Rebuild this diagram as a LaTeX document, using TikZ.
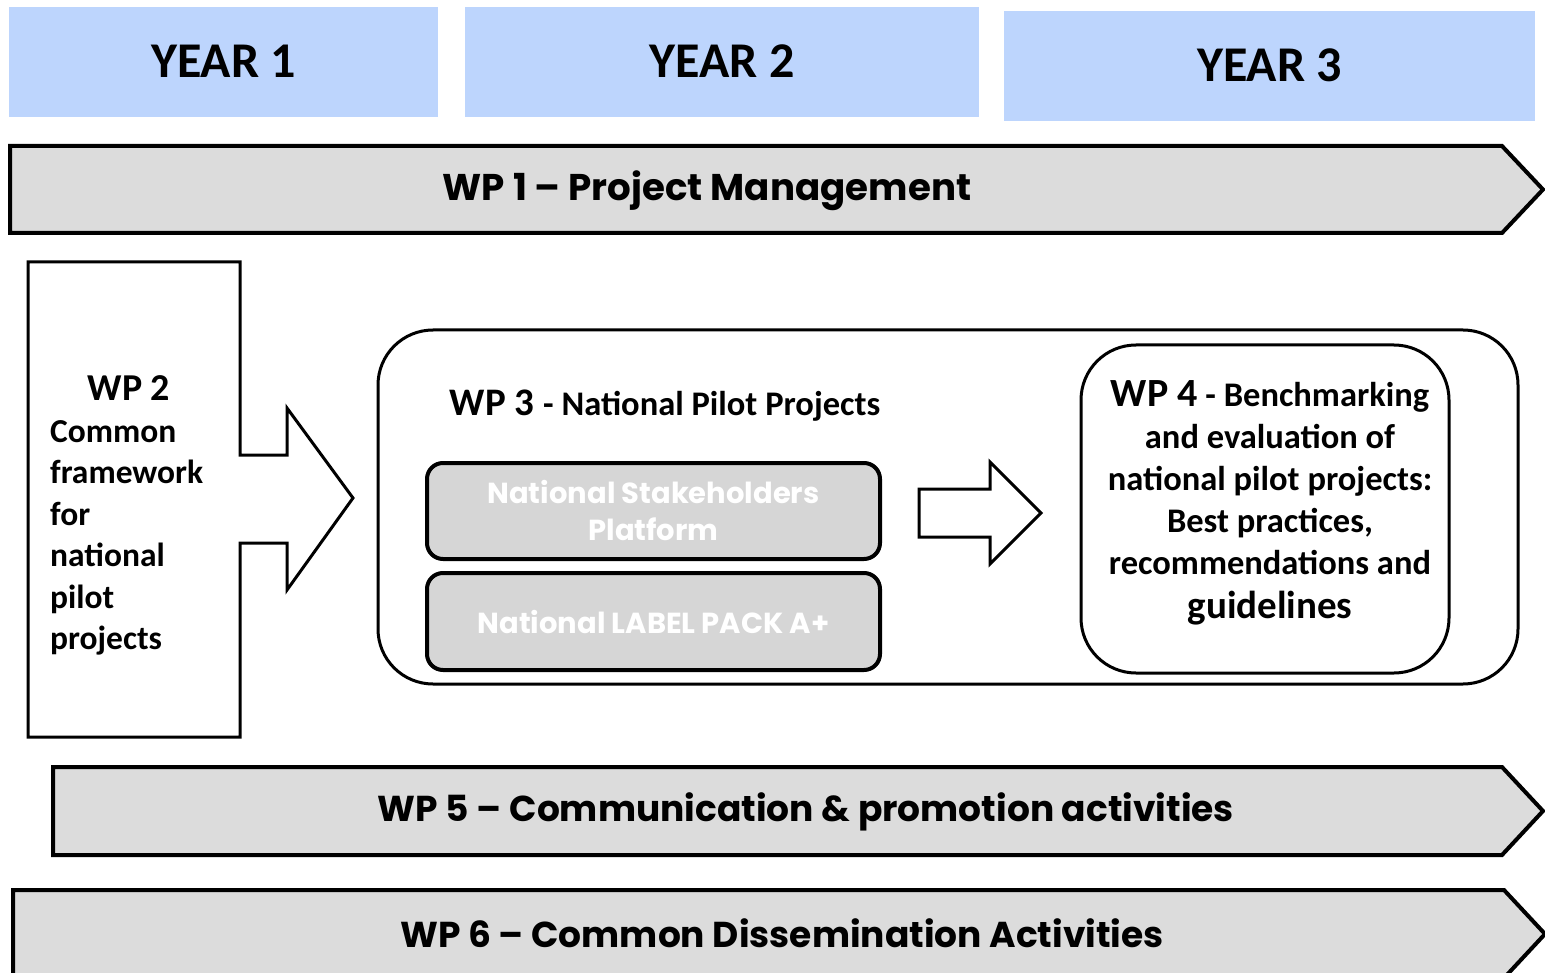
\documentclass[tikz,border=0pt]{standalone}
\usepackage{fontspec}
\setmainfont{Carlito}
\newfontfamily\gothic{Poppins}
\definecolor{yearblue}{RGB}{189,213,253}
\definecolor{bargray}{RGB}{220,220,220}
\definecolor{boxgray}{RGB}{214,214,214}
\tikzset{
  yearbox/.style={fill=yearblue,draw=none,inner sep=0pt,font=\bfseries\fontsize{50}{60}\selectfont},
  bar/.style={draw=black,fill=bargray,line width=4pt,line join=miter},
  bartext/.style={font=\gothic\bfseries\fontsize{36}{40}\selectfont,inner sep=0pt},
  outline/.style={draw=black,line width=3pt,line join=miter},
  innerbox/.style={draw=black,fill=boxgray,line width=4pt,rounded corners=16pt,inner sep=0pt,
    text=white,align=center,font=\gothic\bfseries\fontsize{29}{37}\selectfont},
}
\begin{document}
\begin{tikzpicture}[x=1pt,y=-1pt]
\useasboundingbox (0,0) rectangle (1545,973);
\clip (0,0) rectangle (1545,973);
% year headers
\node[yearbox,minimum width=429pt,minimum height=110pt] (y1) at (223.5,62) {\raisebox{2pt}{YEAR 1}};
\node[yearbox,minimum width=514pt,minimum height=110pt] (y2) at (722,62) {\raisebox{2pt}{YEAR 2}};
\node[yearbox,minimum width=531pt,minimum height=110pt] (y3) at (1269.5,66) {\raisebox{2pt}{YEAR 3}};
% WP1
\draw[bar] (10,146) -- (1502,146) -- (1543,189.5) -- (1502,233) -- (10,233) -- cycle;
\node[bartext,font=\gothic\bfseries\fontsize{37.2}{40}\selectfont] (wp1) at (707,191) {WP 1 – Project Management};
% WP2
\draw[outline,fill=white] (28,262) -- (240,262) -- (240,455) -- (287,455) -- (287,408) -- (353,498)
  -- (287,590) -- (287,543) -- (240,543) -- (240,737) -- (28,737) -- cycle;
\node[font=\bfseries\fontsize{38}{44}\selectfont,inner sep=0pt] (wp2t) at (129,388) {WP 2};
\node[font=\bfseries\fontsize{33.5}{41.5}\selectfont,align=left,anchor=west,inner sep=0pt] (wp2) at (50,538)
  {Common\\framework\\for\\national\\pilot\\projects};
% WP3
\draw[outline,rounded corners=55pt] (378,330) rectangle (1518,684);
\node[inner sep=0pt,font=\bfseries] (wp3) at (665,406)
  {\fontsize{39}{44}\selectfont WP 3 \fontsize{34.5}{40}\selectfont - National Pilot Projects};
\node[innerbox,minimum width=453pt,minimum height=96pt] (nsp) at (653.5,511)
  {National Stakeholders\\Platform};
\node[innerbox,minimum width=453pt,minimum height=97pt] (nlp) at (653.5,621.5)
  {National LABEL PACK A+};
% middle arrow
\draw[outline,fill=white] (919,489) -- (990,489) -- (990,462) -- (1041,513) -- (990,564)
  -- (990,537) -- (919,537) -- cycle;
% WP4
\node[outline,rounded corners=55pt,minimum width=368pt,minimum height=328pt,inner sep=0pt] (wp4) at (1265,509) {};
\node[font=\bfseries\fontsize{34.5}{42}\selectfont,align=center,inner sep=0pt] (wp4t) at (1270,503)
  {{\fontsize{40}{42}\selectfont WP 4} - Benchmarking\\and evaluation of\\national pilot projects:\\Best practices,\\recommendations and\\[2pt]{\fontsize{39}{42}\selectfont guidelines}};
% WP5
\draw[bar] (53,767) -- (1502,767) -- (1543,811) -- (1502,855) -- (53,855) -- cycle;
\node[bartext] (wp5) at (806,812) {WP 5 – Communication \& promotion activities};
% WP6
\draw[bar] (13,890) -- (1504,890) -- (1545,934) -- (1504,978) -- (13,978) -- cycle;
\node[bartext] (wp6) at (782,933) {WP 6 – Common Dissemination Activities};
\end{tikzpicture}
\end{document}
